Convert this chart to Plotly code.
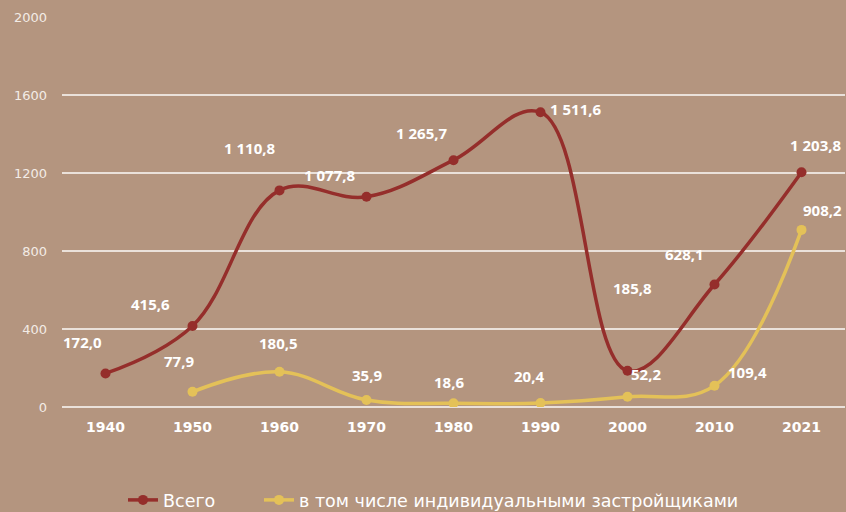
import plotly.graph_objects as go

years = ["1940", "1950", "1960", "1970", "1980", "1990", "2000", "2010", "2021"]
total = [172.0, 415.6, 1110.8, 1077.8, 1265.7, 1511.6, 185.8, 628.1, 1203.8]
individual = [None, 77.9, 180.5, 35.9, 18.6, 20.4, 52.2, 109.4, 908.2]
y_ticks = [0, 400, 800, 1200, 1600, 2000]

# label offsets in pixels (dx, dy) for each point
total_offsets = [(-23, 31), (-42, 22), (-30, 42), (-37, 22), (-32, 27), (35, 3), (5, 83), (-30, 31), (14, 27)]
indiv_offsets = [None, (-14, 31), (-1, 29), (0, 25), (-5, 21), (-12, 27), (18, 23), (33, 14), (21, 20)]

RED = "#952E2B"
YELLOW = "#E4C158"
BG = "#B4957F"
FONT = "DejaVu Sans, sans-serif"
LABEL_FONT = "Open Sans, sans-serif"


def fmt(v):
    whole, frac = f"{v:.1f}".split(".")
    s = f"{int(whole):,}".replace(",", " ")
    return f"{s},{frac}"


fig = go.Figure()
fig.add_trace(go.Scatter(
    x=years, y=total, name="Всего", mode="lines+markers",
    line=dict(color=RED, width=3.5, shape="spline", smoothing=1.1),
    marker=dict(color=RED, size=10), legend="legend",
))
fig.add_trace(go.Scatter(
    x=years, y=individual, name="в том числе индивидуальными застройщиками",
    mode="lines+markers",
    line=dict(color=YELLOW, width=3.5, shape="spline", smoothing=1.1),
    marker=dict(color=YELLOW, size=10), legend="legend2",
))

annotations = []
for series, offsets in ((total, total_offsets), (individual, indiv_offsets)):
    for i, (v, off) in enumerate(zip(series, offsets)):
        if v is None:
            continue
        annotations.append(dict(
            x=i, y=v, xref="x", yref="y", text=f"<b>{fmt(v)}</b>",
            showarrow=False, xshift=off[0], yshift=off[1],
            font=dict(family=LABEL_FONT, size=15, color="#FFFFFF"),
        ))

legend_style = dict(
    orientation="h", xref="container", yref="container", xanchor="left",
    y=0.0234, yanchor="middle", bgcolor="rgba(0,0,0,0)",
    font=dict(family=FONT, size=17.5, color="#FFFFFF"),
)

fig.update_layout(
    width=846, height=512,
    paper_bgcolor=BG, plot_bgcolor=BG,
    margin=dict(l=62, r=1, t=17, b=105),
    showlegend=True,
    legend=dict(x=123 / 846, **legend_style),
    legend2=dict(x=259 / 846, **legend_style),
    annotations=annotations,
)
fig.update_xaxes(
    type="category", range=[-0.5, 8.5], showgrid=False, zeroline=False,
    showline=False, ticks="",
    tickfont=dict(family=FONT, size=14, color="#FFFFFF", weight="bold"),
    ticklabelstandoff=10,
)
fig.update_yaxes(
    range=[0, 2000], tickvals=y_ticks, showgrid=True,
    gridcolor="#EAE1DA", gridwidth=1.5, zeroline=True, zerolinecolor="#EAE1DA",
    zerolinewidth=1.5, showline=False, ticks="",
    tickfont=dict(family=FONT, size=13, color="#F3ECE6"),
    ticklabelstandoff=14,
)

fig.write_html("out.html")
